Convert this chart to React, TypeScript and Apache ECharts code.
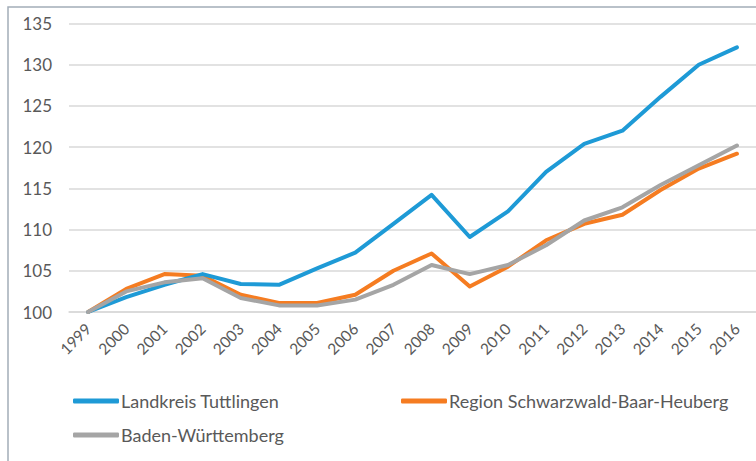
import React, { useEffect, useRef } from "react";
import * as echarts from "echarts";

const years = ["1999","2000","2001","2002","2003","2004","2005","2006","2007","2008","2009","2010","2011","2012","2013","2014","2015","2016"];
const tuttlingen = [100, 101.8, 103.3, 104.6, 103.4, 103.3, 105.3, 107.2, 110.7, 114.2, 109.1, 112.2, 117.0, 120.4, 122.0, 126.1, 130.0, 132.1];
const region = [100, 102.8, 104.6, 104.4, 102.1, 101.1, 101.1, 102.1, 105.0, 107.1, 103.1, 105.5, 108.7, 110.7, 111.8, 114.8, 117.4, 119.2];
const bw = [100, 102.5, 103.6, 104.1, 101.7, 100.8, 100.8, 101.5, 103.3, 105.7, 104.6, 105.7, 108.1, 111.1, 112.7, 115.4, 117.8, 120.2];
const names = ["Landkreis Tuttlingen", "Region Schwarzwald-Baar-Heuberg", "Baden-Württemberg"];
const colors = ["#1e9ad6", "#f57c21", "#a5a5a5"];

export default function App() {
  const ref = useRef<HTMLDivElement>(null);
  useEffect(() => {
    document.body.style.margin = "0";
    const chart = echarts.init(ref.current!, null, { renderer: "svg" });
    const font = "Lato, 'Open Sans', sans-serif";
    const mk = (name: string, data: number[], color: string, z: number) => ({
      name,
      type: "line",
      data,
      symbol: "none",
      z,
      lineStyle: { color, width: 4, cap: "round", join: "round" },
      itemStyle: { color },
    });
    const legendCommon = {
      orient: "vertical",
      top: 392,
      padding: 0,
      itemWidth: 46,
      itemHeight: 5,
      icon: "roundRect",
      textStyle: { color: "#595959", fontSize: 18, fontFamily: font, padding: [0, 0, 0, -3] },
    };
    chart.setOption({
      animation: false,
      backgroundColor: "#ffffff",
      grid: { left: 69, top: 23.5, width: 693, height: 288.5, containLabel: false },
      xAxis: {
        type: "category",
        data: years,
        boundaryGap: true,
        axisLine: { show: true, lineStyle: { color: "#d9d9d9", width: 1.5 } },
        axisTick: { show: false },
        axisLabel: { rotate: 45, margin: 14, color: "#595959", fontSize: 15.5, fontFamily: font, interval: 0 },
      },
      yAxis: {
        type: "value",
        min: 100,
        max: 135,
        interval: 5,
        axisLine: { show: false },
        axisTick: { show: false },
        splitLine: { lineStyle: { color: "#d9d9d9", width: 1.5 } },
        axisLabel: { margin: 17, color: "#595959", fontSize: 17, fontFamily: font },
      },
      legend: [
        { ...legendCommon, data: [names[0], names[2]], left: 73, itemGap: 16 },
        { ...legendCommon, data: [names[1]], left: 401 },
      ],
      graphic: [
        {
          type: "rect",
          shape: { x: 8, y: 7, width: 800, height: 500 },
          style: { fill: "none", stroke: "#a3adb8", lineWidth: 1.5 },
          silent: true,
        },
      ],
      series: [
        mk(names[0], tuttlingen, colors[0], 3),
        mk(names[1], region, colors[1], 2),
        mk(names[2], bw, colors[2], 4),
      ],
    });
    return () => chart.dispose();
  }, []);
  return <div ref={ref} style={{ width: 756, height: 461 }} />;
}
